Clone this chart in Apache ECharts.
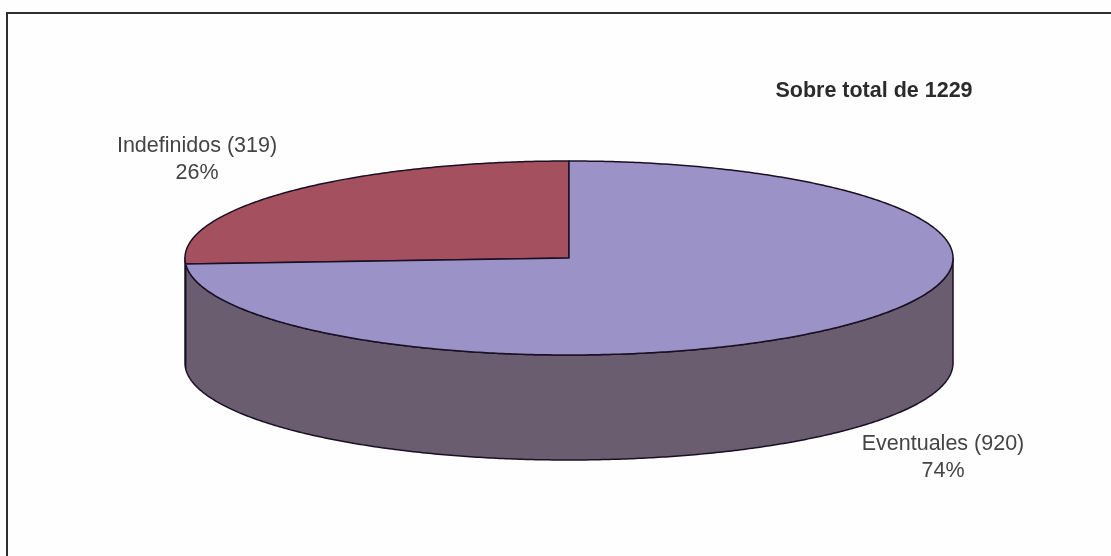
<!DOCTYPE html>
<html>
<head>
<meta charset="utf-8">
<style>
  html, body { margin: 0; padding: 0; background: #fff; }
  #chart { width: 1111px; height: 556px; }
</style>
<script src="https://cdn.jsdelivr.net/npm/echarts@6/dist/echarts.min.js"></script>
</head>
<body>
<div id="chart"></div>
<script>
// datos
var categories = ['Indefinidos', 'Eventuales'];
var values = [319, 920];
var percents = [26, 74];
var totalLabel = 'Sobre total de 1229';

(function () {
  var chart = echarts.init(document.getElementById('chart'));

  var cx = 569, cy = 258, rx = 384, ry = 97, depth = 105;
  var topColors = ['#a5505f', '#9b92c8'];
  var wallColor = '#6b5d70';
  var edge = '#1a1024';

  // the first slice runs counter clockwise from 12 o'clock
  function sliceRange(i) {
    var before = 0;
    for (var k = 0; k < i; k++) before += percents[k];
    var a0 = 90 + before * 3.6;
    return [a0, a0 + percents[i] * 3.6];
  }

  function ellipsePoint(deg, dy) {
    var r = deg * Math.PI / 180;
    return [cx + rx * Math.cos(r), cy - ry * Math.sin(r) + (dy || 0)];
  }

  function arcPoints(a0, a1, dy) {
    var pts = [];
    var n = Math.ceil(Math.abs(a1 - a0) * 2);
    for (var s = 0; s <= n; s++) {
      pts.push(ellipsePoint(a0 + (a1 - a0) * s / n, dy));
    }
    return pts;
  }

  // side wall: only the front part of each slice (180..360 deg) can be seen
  function renderWall(params) {
    var range = sliceRange(params.dataIndex);
    var a0 = Math.max(range[0], 180), a1 = Math.min(range[1], 360);
    if (a1 <= a0) return null;
    var pts = arcPoints(a0, a1, 0).concat(arcPoints(a1, a0, depth));
    return {
      type: 'polygon',
      shape: { points: pts },
      style: { fill: wallColor, stroke: edge, lineWidth: 1.5, lineJoin: 'round' }
    };
  }

  function renderTop(params) {
    var range = sliceRange(params.dataIndex);
    var pts = [[cx, cy]].concat(arcPoints(range[0], range[1], 0));
    return {
      type: 'polygon',
      shape: { points: pts },
      style: { fill: topColors[params.dataIndex], stroke: edge, lineWidth: 1.5, lineJoin: 'round' }
    };
  }

  function sliceLabel(i) {
    return categories[i] + ' (' + values[i] + ')\n' + percents[i] + '%';
  }

  function labelEl(text, x, y, bold, size) {
    return {
      type: 'text',
      x: x,
      y: y,
      style: {
        text: text,
        fill: bold ? '#2b2b2b' : '#444444',
        font: (bold ? 'bold ' : '') + size + 'px "Liberation Sans", Arial, sans-serif',
        align: 'center',
        verticalAlign: 'middle',
        lineHeight: 27
      }
    };
  }

  var option = {
    backgroundColor: '#fefefe',
    animation: false,
    tooltip: { show: false },
    graphic: [
      // marco
      { type: 'line', shape: { x1: 7, y1: 13, x2: 7, y2: 556 }, style: { stroke: '#2e2e2e', lineWidth: 2 } },
      { type: 'line', shape: { x1: 6, y1: 13, x2: 1111, y2: 13 }, style: { stroke: '#2e2e2e', lineWidth: 2 } },
      labelEl(totalLabel, 874, 91, true, 21.5),
      labelEl(sliceLabel(0), 197, 159.5, false, 21.5),
      labelEl(sliceLabel(1), 943, 458, false, 21.5)
    ],
    series: [
      {
        type: 'custom',
        coordinateSystem: 'none',
        silent: true,
        data: values,
        renderItem: renderWall
      },
      {
        type: 'custom',
        coordinateSystem: 'none',
        silent: true,
        data: values,
        renderItem: renderTop
      }
    ]
  };

  chart.setOption(option);
})();
</script>
</body>
</html>
